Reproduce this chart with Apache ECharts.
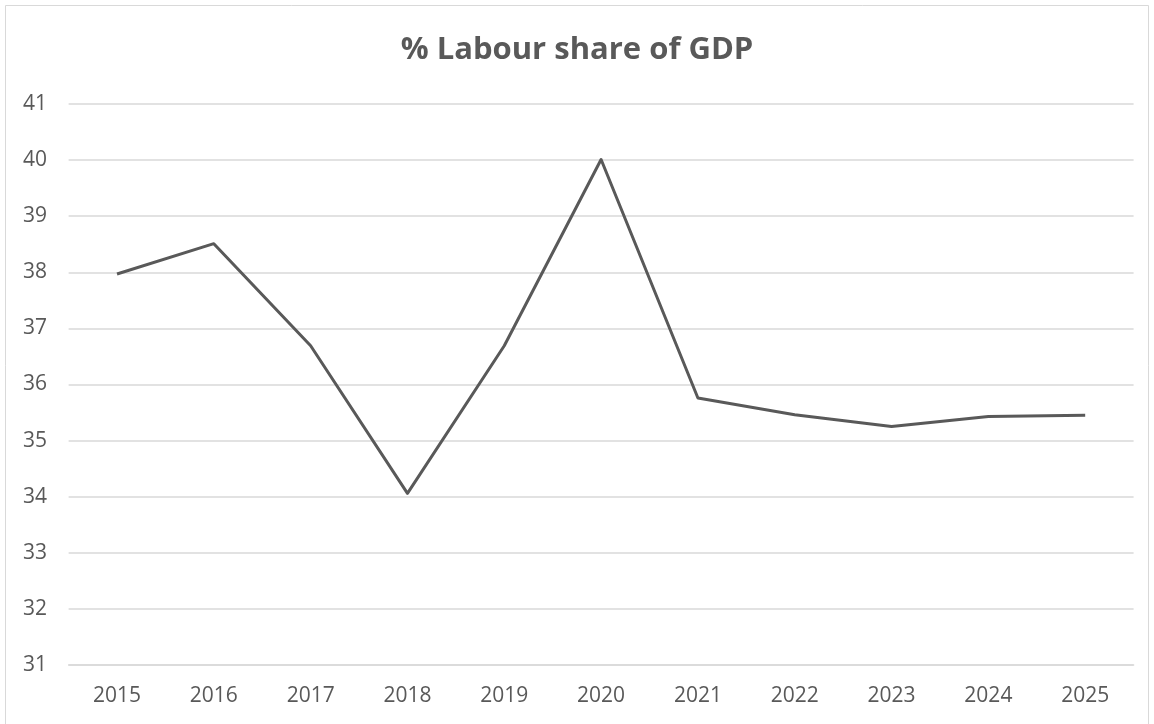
<!DOCTYPE html>
<html><head><meta charset="utf-8">
<script src="https://cdn.jsdelivr.net/npm/echarts@6/dist/echarts.min.js"></script>
<style>html,body{margin:0;padding:0;background:#fff}#c{width:1154px;height:724px}</style>
</head><body><div id="c"></div>
<script>
const title = '% Labour share of GDP';
const years = ['2015','2016','2017','2018','2019','2020','2021','2022','2023','2024','2025'];
const labourShare = [37.97, 38.51, 36.69, 34.06, 36.69, 40.01, 35.76, 35.46, 35.25, 35.43, 35.45];
const yMin = 31, yMax = 41, yStep = 1;

const chart = echarts.init(document.getElementById('c'));
chart.setOption({
  backgroundColor: '#fff',
  animation: false,
  graphic: [{
    type: 'rect', shape: {x: 5.5, y: 5.5, width: 1143, height: 740},
    style: {fill: 'none', stroke: '#d9d9d9', lineWidth: 1}
  }],
  title: {
    text: title, left: 'center', top: 30,
    textStyle: {fontFamily: 'Open Sans', fontSize: 31, fontWeight: 'bold', color: '#595959'}
  },
  grid: {left: 68.6, right: 20.4, top: 104, bottom: 59, containLabel: false},
  xAxis: {
    type: 'category', data: years, boundaryGap: true,
    axisLine: {show: true, lineStyle: {color: '#d9d9d9', width: 1.5}},
    axisTick: {show: false},
    axisLabel: {color: '#595959', fontSize: 21, fontFamily: 'Open Sans', margin: 21}
  },
  yAxis: {
    type: 'value', min: yMin, max: yMax, interval: yStep,
    axisLine: {show: false}, axisTick: {show: false},
    splitLine: {lineStyle: {color: '#d9d9d9', width: 1.5}},
    axisLabel: {color: '#595959', fontSize: 21, fontFamily: 'Open Sans', margin: 21.6}
  },
  series: [{
    type: 'line', data: labourShare, symbol: 'none',
    lineStyle: {color: '#595959', width: 3, join: 'round'}
  }]
});
</script></body></html>
